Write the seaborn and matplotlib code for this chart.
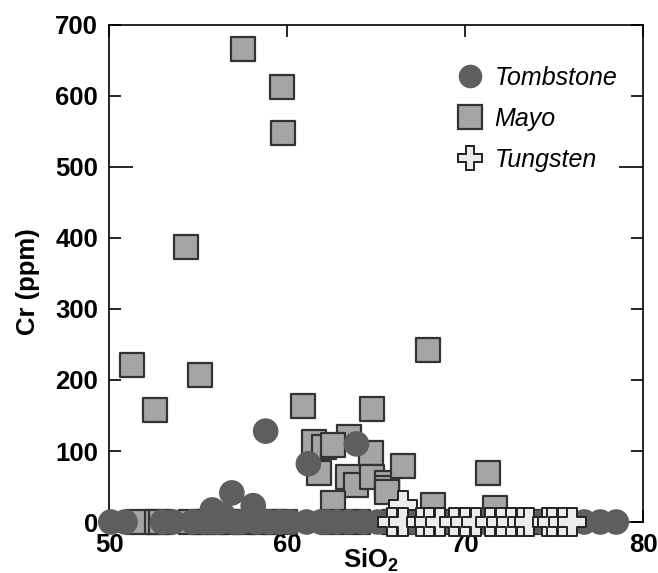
import pandas as pd
import matplotlib
matplotlib.use("Agg")
import matplotlib.pyplot as plt
import seaborn as sns
from matplotlib.lines import Line2D

# Tombstone suite (circles)
tomb_sio2 = [58.8, 61.2, 63.9, 56.9, 55.8, 58.1, 56.4,
             50.1, 50.9, 53.0, 53.6, 54.7, 55.3, 55.7, 56.2, 57.0, 57.4, 58.3, 59.0,
             59.6, 60.2, 61.1, 61.9, 62.2, 62.8, 63.5, 64.3, 65.1, 65.8, 66.4, 67.2,
             68.0, 68.6, 69.5, 70.3, 71.0, 71.8, 72.7, 73.5, 74.4, 75.1, 75.9, 76.7,
             77.6, 78.5]
tomb_cr = [128, 82, 110, 41, 17, 23, 10,
           0, 0, 0, 0, 0, 0, 0, 0, 0, 0, 0, 0,
           0, 0, 0, 0, 0, 0, 0, 0, 0, 0, 0, 0,
           0, 0, 0, 0, 0, 0, 0, 0, 0, 0, 0, 0,
           0, 0]

# Mayo suite (squares)
mayo_sio2 = [57.5, 59.7, 59.8, 54.3, 51.3, 55.1, 52.6, 60.9, 64.8, 67.9,
             61.5, 62.1, 63.5, 62.6, 61.8, 63.4, 63.9, 64.7, 64.8, 65.6,
             65.6, 65.6, 66.5, 62.6, 68.2, 71.3, 71.7,
             51.6, 52.7, 52.9, 54.6, 55.3, 56.0, 56.8, 57.6, 58.5, 59.2,
             59.9, 62.5, 64.0, 66.0, 67.5, 69.0, 70.2, 72.0, 73.0, 74.5]
mayo_cr = [666, 613, 548, 388, 221, 207, 158, 163, 159, 242,
           113, 106, 120, 108, 69, 63, 52, 97, 63, 55,
           48, 42, 79, 27, 24, 69, 20,
           0, 0, 0, 0, 0, 0, 0, 0, 0, 0,
           0, 0, 0, 0, 0, 0, 0, 0, 0, 0]

# Tungsten suite (crosses)
tung_sio2 = [66.5, 65.9, 66.5, 67.5, 68.0, 68.6, 69.4, 70.0, 70.6, 71.4,
             72.0, 72.6, 73.2, 73.6, 74.6, 74.9, 75.5, 76.0]
tung_cr = [24, 0, 0, 0, 0, 0, 0, 0, 0, 0,
           0, 0, 0, 0, 0, 0, 0, 0]

tomb = pd.DataFrame({"SiO2": tomb_sio2, "Cr": tomb_cr})
mayo = pd.DataFrame({"SiO2": mayo_sio2, "Cr": mayo_cr})
tung = pd.DataFrame({"SiO2": tung_sio2, "Cr": tung_cr})

sns.set_style("ticks")
plt.rcParams["font.family"] = ["Liberation Sans", "DejaVu Sans"]
plt.rcParams["mathtext.fontset"] = "custom"
plt.rcParams["mathtext.bf"] = "Liberation Sans:bold"
plt.rcParams["mathtext.rm"] = "Liberation Sans:bold"
# plain black text and axes like the original
for key in ["text.color", "axes.labelcolor", "xtick.color", "ytick.color", "axes.edgecolor"]:
    plt.rcParams[key] = "black"

circle_col = "#5e5e5e"
square_col = "#a5a5a5"
cross_col = "#ececec"

fig = plt.figure(figsize=(6.58, 5.73), dpi=100)
ax = fig.add_axes([0.1657, 0.0890, 0.8115, 0.8674])

sns.scatterplot(data=mayo, x="SiO2", y="Cr", ax=ax, marker="s", s=290,
                color=square_col, edgecolor="#333333", linewidth=1.6,
                clip_on=False, zorder=3, legend=False)
sns.scatterplot(data=tomb, x="SiO2", y="Cr", ax=ax, marker="o", s=340,
                color=circle_col, edgecolor="none", linewidth=0,
                clip_on=False, zorder=4, legend=False)
sns.scatterplot(data=tung, x="SiO2", y="Cr", ax=ax, marker="P", s=430,
                color=cross_col, edgecolor="#222222", linewidth=1.4,
                clip_on=False, zorder=5, legend=False)

ax.set_xlim(50, 80)
ax.set_ylim(0, 700)
ax.set_xticks([50, 60, 70, 80])
ax.set_yticks(range(0, 701, 100))
ax.tick_params(direction="in", length=8.5, width=1.2, top=True, right=True,
               labelsize=18.5, pad=8, colors="black")
for lab in ax.get_xticklabels() + ax.get_yticklabels():
    lab.set_fontweight("bold")
for sp in ax.spines.values():
    sp.set_linewidth(1.2)
    sp.set_color("black")

# the 500 tick is drawn longer on both sides in the original
t500 = ax.yaxis.get_major_ticks()[5]
t500.tick1line.set_markersize(17)
t500.tick2line.set_markersize(17)

ax.set_xlabel(r"SiO$_\mathbf{2}$", fontsize=18.5, fontweight="bold", color="black")
ax.xaxis.set_label_coords(0.49, -0.05)
ax.set_ylabel("Cr (ppm)", fontsize=18.5, fontweight="bold", color="black")
ax.yaxis.set_label_coords(-0.13, 0.483)

handles = [
    Line2D([], [], linestyle="none", marker="o", markersize=17,
           markerfacecolor=circle_col, markeredgecolor="none"),
    Line2D([], [], linestyle="none", marker="s", markersize=17,
           markerfacecolor=square_col, markeredgecolor="#333333", markeredgewidth=1.6),
    Line2D([], [], linestyle="none", marker="P", markersize=17,
           markerfacecolor=cross_col, markeredgecolor="#222222", markeredgewidth=1.4),
]
leg = ax.legend(handles, ["Tombstone", "Mayo", "Tungsten"], loc="upper left",
                bbox_to_anchor=(447 / 658, 1 - 56 / 573), bbox_transform=fig.transFigure,
                frameon=False, prop={"style": "italic", "size": 18},
                handlelength=1.0, handletextpad=0.5, labelspacing=0.68,
                borderaxespad=0, borderpad=0.4)
for t in leg.get_texts():
    t.set_color("black")

fig.savefig("out.png", dpi=100)
